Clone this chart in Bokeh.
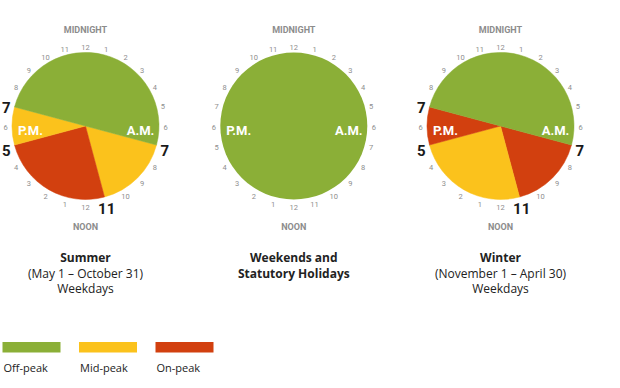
import numpy as np
from bokeh.plotting import figure
from bokeh.models import ColumnDataSource, Range1d
from bokeh.core.properties import value
from bokeh.embed import file_html
from bokeh.resources import INLINE

# ---------------- data ----------------
period_names = ["Off-peak", "Mid-peak", "On-peak"]
period_colors = ["#8BAF37", "#FBC21C", "#D2400F"]

# 24-hour clock segments (hour start, hour end) for each schedule
summer_start = [7, 11, 17, 19]
summer_end = [11, 17, 19, 31]
summer_period = ["Mid-peak", "On-peak", "Mid-peak", "Off-peak"]

weekend_start = [0]
weekend_end = [24]
weekend_period = ["Off-peak"]

winter_start = [7, 11, 17, 19]
winter_end = [11, 17, 19, 31]
winter_period = ["On-peak", "Mid-peak", "On-peak", "Off-peak"]

hour_labels = ["12", "1", "2", "3", "4", "5", "6", "7", "8", "9", "10", "11",
               "12", "1", "2", "3", "4", "5", "6", "7", "8", "9", "10", "11"]

boundary_hours = [7, 11, 17, 19]
boundary_labels = ["7", "11", "5", "7"]

summer_title = ["Summer", "(May 1 – October 31)", "Weekdays"]
weekend_title = ["Weekends and", "Statutory Holidays"]
winter_title = ["Winter", "(November 1 – April 30)", "Weekdays"]

# ---------------- layout ----------------
H = 388  # reference pixel height; data y = H - screen y
W_FIG, H_FIG = 612, 380
p = figure(width=W_FIG, height=H_FIG, output_backend="svg", toolbar_location=None,
           x_range=Range1d(0, W_FIG), y_range=Range1d(H - H_FIG, H),
           min_border=0, background_fill_color="white", border_fill_color="white")
p.axis.visible = False
p.grid.visible = False
p.outline_line_color = None

color_of = dict(zip(period_names, period_colors))
CY = 125.5
R = 73.5
LBL_FONT = "Roboto"
TXT_FONT = "Open Sans"


def Y(sy):
    return H - sy


def clock_xy(cx, cy, hours, r):
    th = np.deg2rad(np.asarray(hours, dtype=float) * 15.0)
    return cx + r * np.sin(th), cy + r * np.cos(th)  # cy is data y


charts = [
    (85.0, summer_start, summer_end, summer_period, True, summer_title, 1),
    (293.3, weekend_start, weekend_end, weekend_period, False, weekend_title, 2),
    (500.0, winter_start, winter_end, winter_period, True, winter_title, 1),
]

for cx, starts, ends, periods, has_bounds, title, nbold in charts:
    cy = Y(CY)
    full = [(e - s) >= 24 for s, e in zip(starts, ends)]
    part = [i for i, f in enumerate(full) if not f]
    whole = [i for i, f in enumerate(full) if f]
    if part:
        src = ColumnDataSource(dict(
            x=[cx] * len(part), y=[cy] * len(part),
            start=[np.deg2rad(90 - 15 * starts[i]) for i in part],
            end=[np.deg2rad(90 - 15 * ends[i]) for i in part],
            color=[color_of[periods[i]] for i in part],
        ))
        p.wedge(x="x", y="y", radius=R, start_angle="start", end_angle="end",
                direction="clock", fill_color="color", line_color="color", line_width=0.5,
                source=src)
    for i in whole:
        p.circle(x=[cx], y=[cy], radius=R, fill_color=color_of[periods[i]], line_color=None)

    # hour labels
    hrs = list(range(24))
    big = boundary_hours if has_bounds else []
    small_h = [h for h in hrs if h not in big]
    lx, ly = clock_xy(cx, Y(126.5), small_h, 80)
    p.text(x=lx, y=ly, text=[hour_labels[h] for h in small_h], text_align="center",
           text_baseline="middle", text_font=value(LBL_FONT), text_font_size="7.5px",
           text_color="#8e8e8e")
    if has_bounds:
        bx, by = clock_xy(cx, Y(128.5), boundary_hours, 82)
        p.text(x=bx, y=by, text=boundary_labels, text_align="center",
               text_baseline="middle", text_font=value(LBL_FONT), text_font_size="15px",
               text_font_style="bold", text_color="#1a1a1a")

    # MIDNIGHT / NOON
    p.text(x=[cx, cx], y=[Y(29.5), Y(226.5)], text=["MIDNIGHT", "NOON"],
           text_align="center", text_baseline="middle", text_font=value(LBL_FONT),
           text_font_size="9px", text_font_style="bold", text_color="#8c8c8c")

    # A.M. / P.M.
    p.text(x=[cx - 55, cx + 55], y=[Y(130), Y(130)], text=["P.M.", "A.M."],
           text_align="center", text_baseline="middle", text_font=value(LBL_FONT),
           text_font_size="13px", text_font_style="bold", text_color="white")

    # titles
    for i, line in enumerate(title):
        p.text(x=[cx], y=[Y(257 + 15.5 * i)], text=[line], text_align="center",
               text_baseline="middle", text_font=value(TXT_FONT), text_font_size="12px",
               text_font_style="bold" if i < nbold else "normal", text_color="#222222")

# legend
lx0 = [2 + 76.5 * i for i in range(len(period_names))]
p.quad(left=lx0, right=[x + 58 for x in lx0], top=[Y(341.5)] * 3, bottom=[Y(352)] * 3,
       fill_color=period_colors, line_color=None)
p.text(x=[x + 1 for x in lx0], y=[Y(367)] * 3, text=period_names, text_align="left",
       text_baseline="middle", text_font=value(TXT_FONT), text_font_size="11px",
       text_color="#222222")

open("out.html", "w").write(file_html(p, INLINE))
